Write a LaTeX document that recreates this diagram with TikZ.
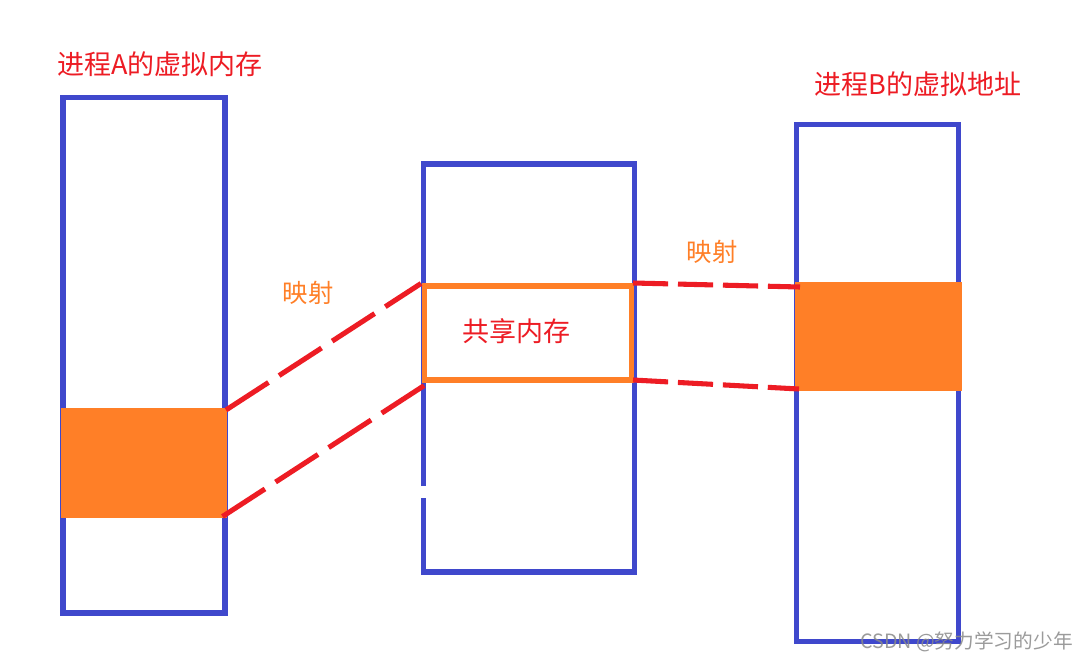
\documentclass[tikz,border=0pt]{standalone}
\usepackage{fontspec}
\newfontfamily\cjk{Noto Sans CJK SC}
\usetikzlibrary{positioning}
\definecolor{pblue}{HTML}{3F48CC}
\definecolor{porange}{HTML}{FF7F27}
\definecolor{pred}{HTML}{ED1C24}
\definecolor{wmgray}{HTML}{8A8A8A}

\begin{document}
\begin{tikzpicture}[x=0.025cm, y=-0.025cm,
  memframe/.style={draw=pblue, line width=3.6pt},
  shmframe/.style={draw=porange, line width=3.6pt},
  mapline/.style={draw=pred, line width=3.6pt, dash pattern=on 36pt off 9pt},
  maplineshort/.style={draw=pred, line width=3.6pt, dash pattern=on 25pt off 7pt},
  cjklabel/.style={font=\cjk\fontsize{19.2}{21}\selectfont, inner sep=0pt}]

% Canvas
\useasboundingbox (0,0) rectangle (1088,659);
\fill[white] (0,0) rectangle (1088,659);

% --- Process A (left) ---
\draw[memframe] (63,97.5) rectangle (225,613);
\fill[porange] (61,408) rectangle (226.5,517.5);
\node[cjklabel, text=pred] (titleA) at (160,64) {进程A的虚拟内存};

% --- Shared memory (middle) ---
\draw[memframe] (423.5,486) -- (423.5,164) -- (634.5,164) -- (634.5,572)
  -- (423.5,572) -- (423.5,498);
\draw[shmframe] (424.5,286) rectangle (631.5,380);
\node[cjklabel, text=pred] (shm) at (516,331) {共享内存};

% --- Process B (right) ---
\draw[memframe] (796.5,124.5) rectangle (958.5,641.5);
\fill[porange] (795,282) rectangle (962,391);
\node[cjklabel, text=pred] (titleB) at (918,84.5) {进程B的虚拟地址};

% Ends of the mappings
\coordinate (Atop) at (226,410);
\coordinate (Abot) at (222.5,516.5);
\coordinate (Stl) at (421,283.5);
\coordinate (Sbl) at (425,385);
\coordinate (Str) at (633,283);
\coordinate (Sbr) at (633,380);
\coordinate (Btop) at (800,287);
\coordinate (Bbot) at (799,389);

% --- Mapping A -> shared ---
\draw[mapline] (Atop) -- (Stl);
\draw[mapline] (Abot) -- (Sbl);
\node[cjklabel, text=porange, font=\cjk\fontsize{18}{20}\selectfont] (mapA) at (308,292.5) {映射};

% --- Mapping shared -> B ---
\draw[maplineshort] (Str) -- (Btop);
\draw[maplineshort] (Sbr) -- (Bbot);
\node[cjklabel, text=porange, font=\cjk\fontsize{18}{20}\selectfont] (mapB) at (712,252) {映射};

% Watermark
\node[text=wmgray, opacity=0.85, font=\cjk\fontsize{14}{16}\selectfont, inner sep=0pt]
  (mark) at (966.5,641.5) {CSDN @努力学习的少年};

\end{tikzpicture}
\end{document}
